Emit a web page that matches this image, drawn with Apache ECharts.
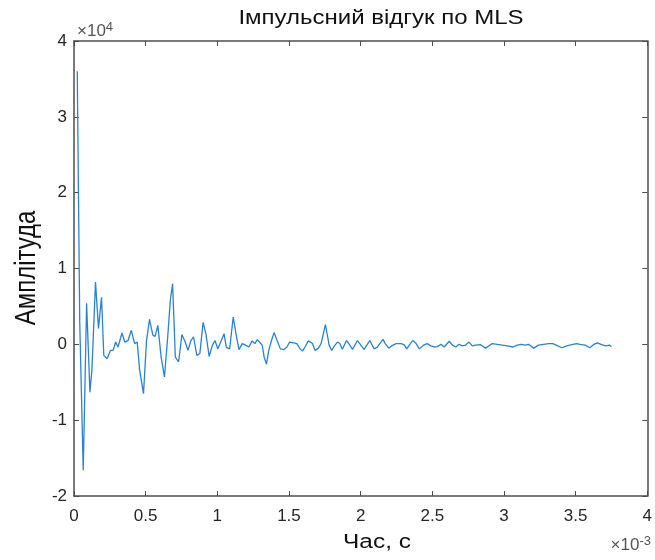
<!DOCTYPE html>
<html>
<head>
<meta charset="utf-8">
<script src="https://cdn.jsdelivr.net/npm/echarts@6/dist/echarts.min.js"></script>
<style>html,body{margin:0;padding:0;background:#fff}#c{width:655px;height:560px}</style>
</head>
<body>
<div id="c"></div>
<script>
// Time in units of 1e-3 s (axis shows ×10^-3)
var timeMs = [0.0227,0.040,0.0645,0.088,0.111,0.125,0.150,0.171,0.192,0.208,0.231,0.254,0.273,0.291,0.307,0.335,0.354,0.377,0.400,0.423,0.441,0.458,0.485,0.506,0.527,0.550,0.566,0.585,0.608,0.631,0.654,0.672,0.688,0.707,0.730,0.753,0.776,0.795,0.816,0.834,0.857,0.878,0.901,0.920,0.943,0.966,0.984,1.003,1.028,1.047,1.063,1.086,1.111,1.132,1.151,1.174,1.197,1.220,1.243,1.262,1.278,1.294,1.313,1.327,1.343,1.359,1.378,1.396,1.417,1.440,1.463,1.486,1.504,1.532,1.555,1.578,1.594,1.612,1.635,1.648,1.664,1.682,1.705,1.724,1.740,1.754,1.770,1.780,1.798,1.821,1.839,1.855,1.872,1.902,1.925,1.943,1.978,2.005,2.024,2.064,2.094,2.117,2.156,2.172,2.196,2.226,2.248,2.283,2.306,2.322,2.347,2.364,2.387,2.410,2.440,2.463,2.491,2.515,2.537,2.560,2.583,2.618,2.641,2.664,2.687,2.710,2.733,2.756,2.779,2.802,2.837,2.872,2.919,2.953,2.988,3.023,3.064,3.092,3.120,3.149,3.172,3.207,3.241,3.276,3.311,3.341,3.364,3.404,3.438,3.473,3.508,3.531,3.566,3.600,3.628,3.652,3.681,3.711,3.735,3.750];
// Amplitude in units of 1e4 (axis shows ×10^4)
var amplitudeE4 = [3.60,0.30,-1.66,0.54,-0.63,-0.34,0.82,0.21,0.62,-0.145,-0.19,-0.08,-0.08,0.03,-0.035,0.15,0.03,0.05,0.185,0.01,0.03,-0.34,-0.65,0.05,0.33,0.12,0.105,0.25,-0.17,-0.43,0.10,0.58,0.80,-0.17,-0.23,0.13,0.03,-0.08,0.05,0.10,-0.145,-0.12,0.29,0.14,-0.16,-0.01,0.05,-0.06,0.05,0.14,-0.04,-0.06,0.36,0.12,-0.07,0.01,-0.01,-0.035,0.045,0.01,0.06,0.03,-0.01,-0.17,-0.26,-0.08,0.05,0.155,0.05,-0.06,-0.07,-0.035,0.03,0.02,0.01,-0.06,-0.09,-0.035,0.045,0.065,0.01,-0.08,-0.05,0.01,0.14,0.26,0.10,-0.01,-0.08,-0.01,0.03,0.01,-0.066,0.05,-0.01,-0.066,0.05,-0.02,-0.066,0.05,-0.06,-0.035,0.065,0.01,-0.05,-0.01,0.01,0.01,-0.01,-0.06,0.01,0.05,0.01,-0.06,-0.01,0.01,-0.02,-0.035,-0.03,0.0,-0.035,0.04,-0.01,-0.035,0.0,-0.02,-0.01,0.03,-0.02,-0.01,-0.005,-0.05,0.01,0.0,-0.01,-0.02,-0.035,-0.01,0.0,-0.01,0.0,-0.05,-0.01,0.0,0.01,0.01,-0.01,-0.045,-0.02,-0.005,0.01,0.0,-0.01,-0.045,0.0,0.02,-0.005,-0.02,-0.01,-0.03];
var xTicks = {min: 0, max: 4, interval: 0.5};
var yTicks = {min: -2, max: 4, interval: 1};
var titleText = 'Імпульсний відгук по MLS';
var xLabelText = 'Час, с';
var yLabelText = 'Амплітуда';

var data = timeMs.map(function (t, i) { return [t, amplitudeE4[i]]; });
var FONT = '"Liberation Sans", Arial, sans-serif';
var AX = '#4d4d4d', TXT = '#262626';
function fmt(v){ return String(Math.round(v*10)/10); }
function axisCommon(){ return {
  axisLine: {show: true, onZero: false, lineStyle: {color: AX, width: 1.5}},
  axisTick: {show: true, inside: true, length: 5, lineStyle: {color: AX, width: 1}},
  splitLine: {show: false}
};}
var chart = echarts.init(document.getElementById('c'), null, {renderer: 'canvas'});
chart.setOption({
  animation: false,
  backgroundColor: '#fff',
  grid: {left: 74, right: 4, top: 41, bottom: 64, containLabel: false},
  xAxis: [
    Object.assign({type: 'value', position: 'bottom', min: xTicks.min, max: xTicks.max, interval: xTicks.interval,
      axisLabel: {color: TXT, fontFamily: FONT, fontSize: 17, margin: 12, formatter: fmt}}, axisCommon()),
    Object.assign({type: 'value', position: 'top', min: xTicks.min, max: xTicks.max, interval: xTicks.interval,
      axisLabel: {show: false}}, axisCommon())
  ],
  yAxis: [
    Object.assign({type: 'value', position: 'left', min: yTicks.min, max: yTicks.max, interval: yTicks.interval,
      axisLabel: {color: TXT, fontFamily: FONT, fontSize: 17, margin: 7, formatter: fmt}}, axisCommon()),
    Object.assign({type: 'value', position: 'right', min: yTicks.min, max: yTicks.max, interval: yTicks.interval,
      axisLabel: {show: false}}, axisCommon())
  ],
  series: [{
    type: 'line', data: data, xAxisIndex: 0, yAxisIndex: 0,
    showSymbol: false, symbol: 'none',
    lineStyle: {color: '#2a82d2', width: 1.3},
    clip: true
  }],
  graphic: [
    {type: 'text', x: 381, y: 18, scaleX: 1.2,
      style: {text: titleText, font: '20px ' + FONT, fill: '#111', align: 'center', verticalAlign: 'middle'}},
    {type: 'text', x: 377, y: 542, scaleX: 1.22,
      style: {text: xLabelText, font: '20px ' + FONT, fill: '#111', align: 'center', verticalAlign: 'middle'}},
    {type: 'text', x: 27, y: 268, rotation: Math.PI/2, scaleY: 1.2,
      style: {text: yLabelText, font: '24px ' + FONT, fill: '#111', align: 'center', verticalAlign: 'middle'}},
    {type: 'text', x: 77, y: 31,
      style: {rich: {b: {font: '17px ' + FONT, fill: '#555'}, s: {font: '13px ' + FONT, fill: '#555', padding: [0,0,7,0]}},
        text: '{b|×10}{s|4}', fill: '#555', verticalAlign: 'middle'}},
    {type: 'text', x: 651, y: 545,
      style: {rich: {b: {font: '17px ' + FONT, fill: '#555'}, s: {font: '13px ' + FONT, fill: '#555', padding: [0,0,7,0]}},
        text: '{b|×10}{s|-3}', fill: '#555', align: 'right', verticalAlign: 'middle'}}
  ]
});
</script>
</body>
</html>
